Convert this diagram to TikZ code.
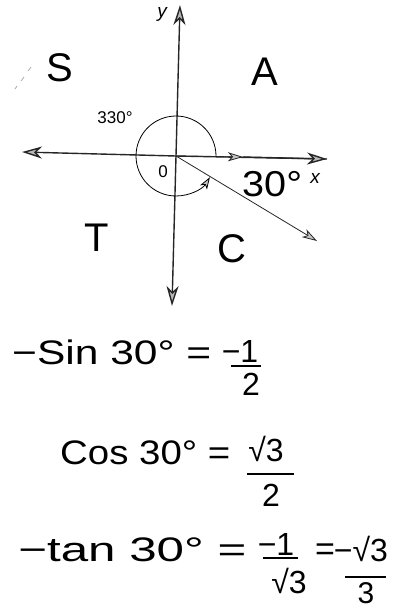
\documentclass[tikz,border=0pt]{standalone}
\usepackage{fontspec}
\setmainfont{Liberation Sans}
\usetikzlibrary{arrows.meta}
\tikzset{
  axis/.style={line width=1.4pt, draw=black!85, -{Stealth[length=20pt,width=12pt,inset=6pt,fill=gray!55]}},
  thin arrow/.style={line width=0.8pt, draw=black!85, -{Stealth[length=15pt,width=9pt,inset=4pt,fill=gray!45]}},
  typed/.style={font=\fontsize{17}{18}\selectfont, inner sep=0pt},
  hand/.style={font=\fontsize{40}{42}\selectfont, inner sep=0pt},
  eqn/.style={font=\fontsize{34}{36}\selectfont, inner sep=0pt, anchor=west},
  frac/.style={font=\fontsize{32}{34}\selectfont, inner sep=0pt},
  fracbar/.style={line width=1.3pt},
}
\begin{document}
\begin{tikzpicture}[x=1pt,y=-1pt]
\useasboundingbox (0,0) rectangle (396,611);
% axes
\coordinate (O) at (176,156);
\coordinate (ytop) at (180,5);
\coordinate (ybot) at (172,306);
\coordinate (xleft) at (22,152);
\coordinate (xmid) at (243,157);
\coordinate (xright) at (327,159);
\coordinate (ray) at (317,241);
\draw[axis] (O) -- (ytop);
\draw[axis] (O) -- (ybot);
\draw[axis] (O) -- (xleft);
\draw[line width=1.4pt, draw=black!85] (O) -- (xright);
\draw[thin arrow] (O) -- (xmid);
\draw[axis] (xmid) -- (xright);
\draw[thin arrow] (O) -- (ray);
% angle arc 330 degrees
\draw[line width=0.8pt, -{Stealth[length=12pt,width=8pt,inset=3pt,fill=gray!45]}]
  (O) ++(40,0) arc[start angle=0, end angle=-328, radius=40];
% labels
\node[typed, font=\fontsize{19}{20}\itshape] (ylab) at (162,14) {y};
\node[typed, font=\fontsize{19}{20}\itshape] (xlab) at (315,178) {x};
\node[typed] (ang) at (115,118) {330°};
\node[typed] (zero) at (163,172) {0};
\node[hand, font=\fontsize{36}{38}\selectfont, anchor=west, xscale=1.1] (thirty) at (242,184) {30°};
\node[hand] (S) at (60,68) {S};
\node[hand] (A) at (265,72) {A};
\node[hand] (T) at (97,238) {T};
\node[hand] (C) at (232,249) {C};
\draw[gray!70, line width=0.7pt] (15,89) -- (17,86) (21,81) -- (24,77) (28,71) -- (31,67);
% equations
\node[eqn, xscale=1.25] (e1) at (12,352) {−Sin 30° =};
\node[frac] (n1) at (240,351) {−1};
\node[frac] (d1) at (251,384) {2};
\draw[fracbar] (231,366) coordinate (b1l) -- (261,366) coordinate (b1r);
\node[eqn, xscale=1.13] (e2) at (60,453) {Cos 30° =};
\node[frac] (n2) at (266,449) {√3};
\node[frac] (d2) at (271,495) {2};
\draw[fracbar] (247,474) -- (294,474);
\node[eqn, xscale=1.45] (e3) at (18,550) {−tan 30° =};
\node[frac] (n3) at (276,544) {−1};
\node[frac] (d3) at (289,581) {√3};
\draw[fracbar] (263,558) -- (298,558);
\node[eqn, anchor=center] (eq4) at (325,552) {=};
\node[frac] (n4) at (361,549) {−√3};
\node[frac, font=\fontsize{30}{32}\selectfont] (d4) at (366,593) {3};
\draw[fracbar] (345,577) -- (386,577);
\end{tikzpicture}
\end{document}
